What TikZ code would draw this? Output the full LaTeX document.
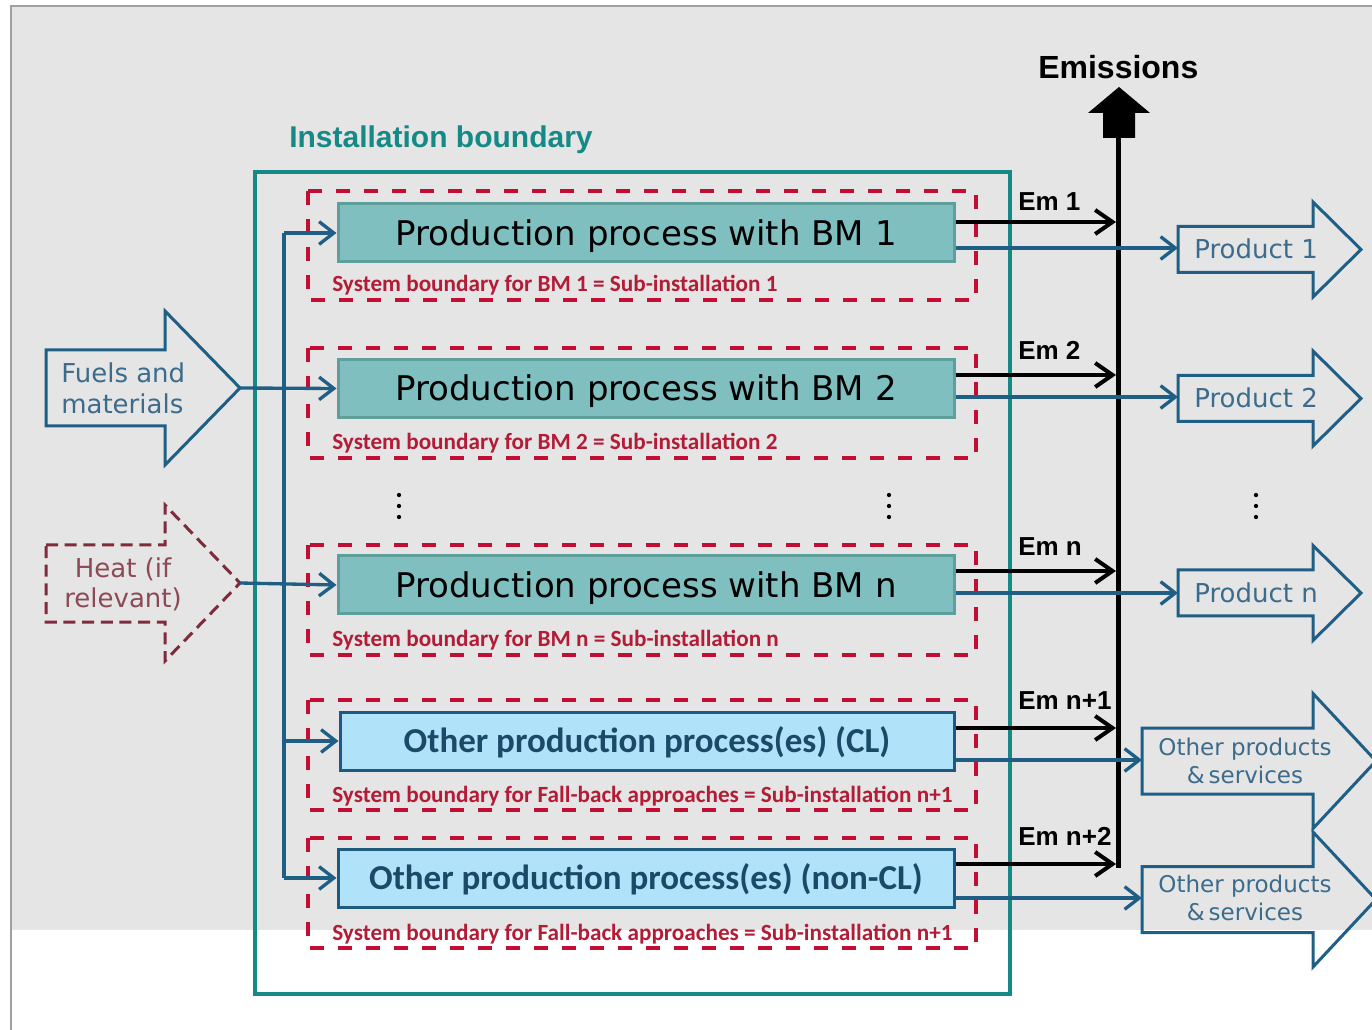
\documentclass[tikz,border=0pt]{standalone}
\usepackage{fontspec}
\setmainfont{DejaVu Sans}
\newfontfamily\arialf{Liberation Sans}
\newfontfamily\calib{Carlito}
\usetikzlibrary{arrows.meta}
\definecolor{bggray}{HTML}{E5E5E5}
\definecolor{framegray}{HTML}{A0A0A0}
\definecolor{instteal}{HTML}{148985}
\definecolor{flowblue}{HTML}{1F5F86}
\definecolor{flowtext}{HTML}{3C6B8B}
\definecolor{tealfill}{HTML}{80BFBF}
\definecolor{tealdraw}{HTML}{5E9E9C}
\definecolor{clfill}{HTML}{B0E3F9}
\definecolor{cldraw}{HTML}{1E5A7E}
\definecolor{cltext}{HTML}{1B4A68}
\definecolor{sysred}{HTML}{C20E32}
\definecolor{captred}{HTML}{B31C36}
\definecolor{heatred}{HTML}{7E2C3C}
\definecolor{heattext}{HTML}{8C4A55}
\newcommand\prodarrow[1]{%
  \draw[blockarrow] (1178,{#1-23}) -- (1313,{#1-23}) -- (1313,{#1-47.5}) -- (1361,#1)
    -- (1313,{#1+47.5}) -- (1313,{#1+23}) -- (1178,{#1+23}) -- cycle;}
\newcommand\otherarrow[1]{%
  \draw[blockarrow] (1142,{#1-33}) -- (1313,{#1-33}) -- (1313,{#1-67.5}) -- (1376,#1)
    -- (1313,{#1+67.5}) -- (1313,{#1+33}) -- (1142,{#1+33}) -- cycle;}
\begin{document}
\begin{tikzpicture}[x=0.75pt,y=-0.75pt,
  bmbox/.style={draw=tealdraw, fill=tealfill, line width=2.25pt, minimum width=462pt,
    minimum height=43.5pt, inner sep=0pt, font=\fontsize{25.5}{30}\selectfont,
    text height=18.6pt, text depth=0pt},
  clbox/.style={draw=cldraw, fill=clfill, line width=2.25pt, minimum width=460.5pt,
    minimum height=43.5pt, inner sep=0pt, font=\calib\bfseries\fontsize{26.25}{30}\selectfont,
    text=cltext, text height=16.9pt, text depth=0pt},
  sysbox/.style={draw=sysred, line width=3pt, dash pattern=on 10.5pt off 10.5pt},
  caption/.style={anchor=base west, inner sep=0pt, text=captred,
    font=\calib\bfseries\fontsize{17.4}{20}\selectfont},
  flowline/.style={draw=flowblue, line width=2.5pt},
  flow/.style={draw=flowblue, line width=2.5pt, -{Straight Barb[length=11pt,width=17pt]}},
  emflow/.style={draw=black, line width=3pt, -{Straight Barb[length=13pt,width=18pt]}},
  emlabel/.style={anchor=base west, inner sep=0pt, font=\arialf\bfseries\fontsize{19.5}{22}\selectfont},
  blockarrow/.style={draw=flowblue, line width=2.25pt, line join=miter},
  arrowtext/.style={inner sep=0pt, text=flowtext, font=\fontsize{19.5}{23.25}\selectfont},
  dotmark/.style={fill=black}
]
\clip (0,0) rectangle (1372,1030);
\fill[white] (0,0) rectangle (1372,1030);
\fill[bggray] (11,6) rectangle (1372,930);
\draw[framegray, line width=2pt] (11,1030) -- (11,6) -- (1372,6);

% installation boundary
\draw[instteal, line width=3pt] (255,172) rectangle (1010,994);
\node[anchor=base west, inner sep=0pt, text=instteal,
  font=\arialf\bfseries\fontsize{22.5}{26}\selectfont] (instlabel) at (289,148) {Installation boundary};

% system boundaries
\draw[sysbox] (308,191) rectangle (976,300);
\draw[sysbox] (308,348) rectangle (976,458);
\draw[sysbox] (308,545) rectangle (976,655);
\draw[sysbox] (308,700) rectangle (976,810);
\draw[sysbox] (308,838) rectangle (976,948);

% process boxes
\node[bmbox] (b1) at (646,233) {Production process with BM 1};
\node[bmbox] (b2) at (646,388.5) {Production process with BM 2};
\node[bmbox] (bn) at (646,585) {Production process with BM n};
\node[clbox] (bcl) at (647,741) {Other production process(es) (CL)};
\node[clbox, minimum width=462pt] (bncl) at (646,878) {Other production process(es) (non-CL)};

% captions
\node[caption] (c1) at (332,292) {System boundary for BM 1 = Sub-installation 1};
\node[caption] (c2) at (332,450) {System boundary for BM 2 = Sub-installation 2};
\node[caption] (cn) at (332,647) {System boundary for BM n = Sub-installation n};
\node[caption] (ccl) at (332,802) {System boundary for Fall-back approaches = Sub-installation n+1};
\node[caption] (cncl) at (332,940) {System boundary for Fall-back approaches = Sub-installation n+1};

% input block arrows
\draw[blockarrow] (46,350) -- (165,350) -- (165,311) -- (240,388) -- (165,465) -- (165,426) -- (46,426) -- cycle;
\coordinate (fueltip) at (240,388);
\node[arrowtext, anchor=west, align=left] (fuels) at (61,388) {Fuels and\\materials};
\draw[heatred, line width=2.25pt, dash pattern=on 9pt off 5pt] (46,545) -- (165,545) -- (165,505) -- (240,583) -- (165,661) -- (165,622) -- (46,622) -- cycle;
\coordinate (heattip) at (240,583);
\node[arrowtext, text=heattext, align=center, font=\fontsize{19.5}{22.5}\selectfont] (heat) at (123,584) {Heat (if\\relevant)};

% distribution bus
\coordinate (bus) at (284,0);
\draw[flowline] (bus |- b1.west) -- (bus |- bncl.west);
\draw[flow] (bus |- b1.west) -- (b1.west);
\draw[flow] (bus |- bcl.west) -- (bcl.west);
\draw[flow] (bus |- bncl.west) -- (bncl.west);
\draw[flow] (fueltip) -- (b2.west);
\draw[flow] (heattip) -- (bn.west);

% emissions
\coordinate (em1) at (1116,222);
\coordinate (em2) at (1116,375);
\coordinate (emn) at (1116,571);
\coordinate (emcl) at (1116,728);
\coordinate (emncl) at (1116,864);
\coordinate (embot) at (1118.5,868);
\coordinate (emtop) at (1118.5,137);
\draw[line width=3.75pt] (embot) -- (emtop);
\fill (1119,87) -- (1150,113) -- (1135,113) -- (1135,138) -- (1103,138) -- (1103,113) -- (1088,113) -- cycle;
\node[anchor=base west, inner sep=0pt, font=\arialf\bfseries\fontsize{24}{27}\selectfont] (emis) at (1038,79) {Emissions};
\draw[emflow] (b1.east |- em1) -- (em1);
\draw[emflow] (b2.east |- em2) -- (em2);
\draw[emflow] (bn.east |- emn) -- (emn);
\draw[emflow] (bcl.east |- emcl) -- (emcl);
\draw[emflow] (bncl.east |- emncl) -- (emncl);
\node[emlabel] (l1) at (1018,211) {Em 1};
\node[emlabel] (l2) at (1018,360) {Em 2};
\node[emlabel] (ln) at (1018,556) {Em n};
\node[emlabel] (lcl) at (1018,709) {Em n+1};
\node[emlabel] (lncl) at (1018,845) {Em n+2};

% products
\prodarrow{249.5}
\prodarrow{398.5}
\prodarrow{593}
\otherarrow{761}
\otherarrow{899.5}
\coordinate (p1) at (1178,248);
\coordinate (p2) at (1178,397);
\coordinate (pn) at (1178,593);
\coordinate (ocl) at (1142,760);
\coordinate (oncl) at (1142,898);
\draw[flow] (b1.east |- p1) -- (p1);
\draw[flow] (b2.east |- p2) -- (p2);
\draw[flow] (bn.east |- pn) -- (pn);
\draw[flow] (bcl.east |- ocl) -- (ocl);
\draw[flow] (bncl.east |- oncl) -- (oncl);
\node[arrowtext, anchor=base west] (t1) at (1194,259) {Product 1};
\node[arrowtext, anchor=base west] (t2) at (1194,408) {Product 2};
\node[arrowtext, anchor=base west] (tn) at (1194,603) {Product n};
\node[arrowtext, align=center, font=\fontsize{17.25}{21.5}\selectfont] (tcl) at (1245,761) {Other products\\\&\,services};
\node[arrowtext, align=center, font=\fontsize{17.25}{21}\selectfont] (tncl) at (1245,898) {Other products\\\&\,services};

% continuation dots
\foreach \dx in {399,889,1256}{
  \foreach \dy in {495,506,517}{
    \fill[dotmark] (\dx,\dy) circle[radius=1.6pt];
  }
}
\end{tikzpicture}
\end{document}
